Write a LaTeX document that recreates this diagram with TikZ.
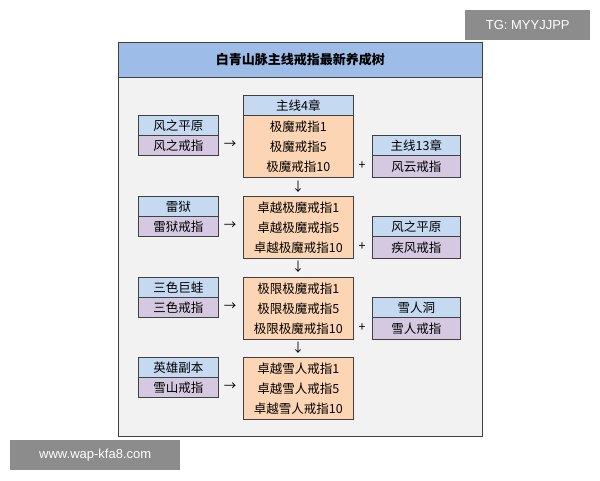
\documentclass[tikz,border=0pt]{standalone}
\usepackage{fontspec}
\newfontfamily\cjk{Noto Sans CJK SC}
\begin{document}
\begin{tikzpicture}[x=1pt,y=-1pt,font=\cjk\fontsize{12.5}{20}\selectfont,
 bx/.style={draw=black!75,line width=0.8pt,inner sep=0pt},
 hd/.style={bx,fill=blue1},
 pu/.style={bx,fill=purp},
 og/.style={bx,fill=orng},
 sym/.style={inner sep=0pt,font=\cjk\fontsize{12.5}{14}\selectfont}]
\definecolor{blue1}{HTML}{C5D9F1}
\definecolor{purp}{HTML}{D4C9E0}
\definecolor{orng}{HTML}{FCD5B4}
\definecolor{titleb}{HTML}{9DBDE8}
\useasboundingbox (0,0) rectangle (600,480);
\fill[white] (0,0) rectangle (600,480);
\node[bx,fill=black!5,minimum width=364,minimum height=394,anchor=north west] (frame) at (118,42) {};
\node[bx,fill=titleb,minimum width=364,minimum height=35,anchor=north west,font=\cjk\bfseries\fontsize{13}{15}\selectfont] (title) at (118,42) {白青山脉主线戒指最新养成树};
% row 1
\node[hd,minimum width=110,minimum height=20,anchor=north west] (c1h) at (243,95) {主线4章};
\node[og,minimum width=110,minimum height=62,anchor=north west,align=center] (c1) at (243,115) {极魔戒指1\\极魔戒指5\\极魔戒指10};
\node[hd,minimum width=80,minimum height=20,anchor=north west] (l1h) at (138,115) {风之平原};
\node[pu,minimum width=80,minimum height=20,anchor=north west] (l1) at (138,135) {风之戒指};
\node[hd,minimum width=88,minimum height=20,anchor=north west] (r1h) at (372,135) {主线13章};
\node[pu,minimum width=88,minimum height=22,anchor=north west] (r1) at (372,155) {风云戒指};
% row 2
\node[og,minimum width=110,minimum height=62,anchor=north west,align=center] (c2) at (243,196) {卓越极魔戒指1\\卓越极魔戒指5\\卓越极魔戒指10};
\node[hd,minimum width=80,minimum height=20,anchor=north west] (l2h) at (138,196) {雷狱};
\node[pu,minimum width=80,minimum height=20,anchor=north west] (l2) at (138,216) {雷狱戒指};
\node[hd,minimum width=88,minimum height=20,anchor=north west] (r2h) at (372,216) {风之平原};
\node[pu,minimum width=88,minimum height=22,anchor=north west] (r2) at (372,236) {疾风戒指};
% row 3
\node[og,minimum width=110,minimum height=62,anchor=north west,align=center] (c3) at (243,277) {极限极魔戒指1\\极限极魔戒指5\\极限极魔戒指10};
\node[hd,minimum width=80,minimum height=20,anchor=north west] (l3h) at (138,277) {三色巨蛙};
\node[pu,minimum width=80,minimum height=20,anchor=north west] (l3) at (138,297) {三色戒指};
\node[hd,minimum width=88,minimum height=20,anchor=north west] (r3h) at (372,297) {雪人洞};
\node[pu,minimum width=88,minimum height=22,anchor=north west] (r3) at (372,317) {雪人戒指};
% row 4
\node[og,minimum width=110,minimum height=62,anchor=north west,align=center] (c4) at (243,357) {卓越雪人戒指1\\卓越雪人戒指5\\卓越雪人戒指10};
\node[hd,minimum width=80,minimum height=20,anchor=north west] (l4h) at (138,357) {英雄副本};
\node[pu,minimum width=80,minimum height=20,anchor=north west] (l4) at (138,377) {雪山戒指};
% symbols
\foreach \i/\y in {1/145,2/226,3/307,4/387}{\node[sym] (ar\i) at (230,\y) {→};}
\foreach \i/\y in {1/166,2/247,3/328}{\node[sym] (pl\i) at (362,\y) {+};}
\foreach \i/\y in {1/187,2/267,3/348}{\node[sym] (dn\i) at (298,\y) {↓};}
% watermarks
\node[fill=black!45,text=white,minimum width=125,minimum height=30,anchor=north west,inner sep=0pt,font=\fontspec{Liberation Sans}\fontsize{13}{15}\selectfont] (wm1) at (465,10) {TG: MYYJJPP};
\node[fill=black!45,text=white,minimum width=170,minimum height=30,anchor=north west,inner sep=0pt,font=\fontspec{Liberation Sans}\fontsize{13}{15}\selectfont] (wm2) at (10,440) {www.wap-kfa8.com};
\end{tikzpicture}
\end{document}
